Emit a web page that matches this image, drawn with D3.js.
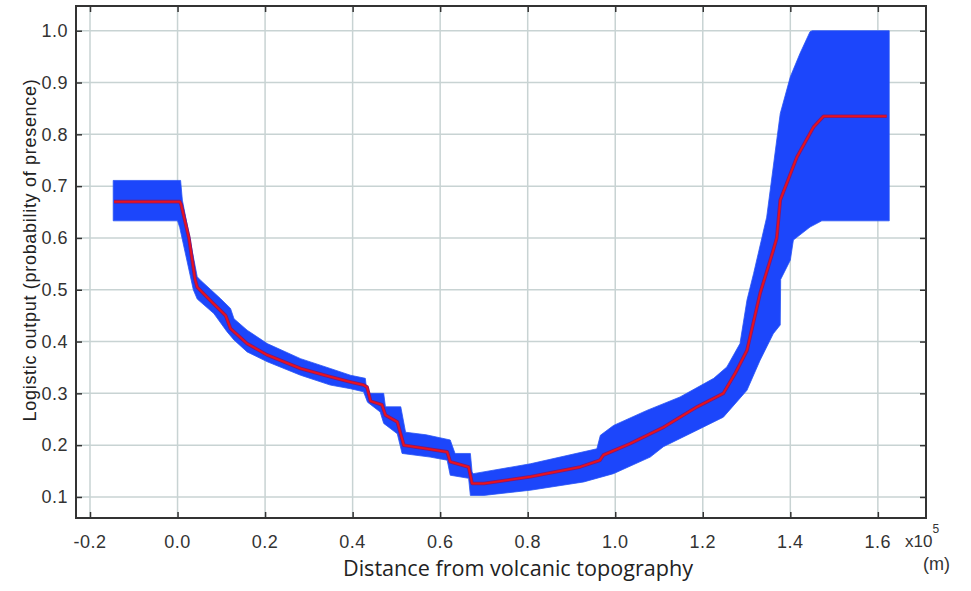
<!DOCTYPE html>
<html>
<head>
<meta charset="utf-8">
<script src="https://cdn.jsdelivr.net/npm/d3@7"></script>
<style>
  html, body { margin: 0; padding: 0; background: #fff; }
  svg { display: block; }
</style>
</head>
<body>
<svg id="chart" width="971" height="591"></svg>
<script>
// ---- Data (x in units of 1e5 m) ----
const xTicks = [-0.2, 0.0, 0.2, 0.4, 0.6, 0.8, 1.0, 1.2, 1.4, 1.6];
const yTicks = [0.1, 0.2, 0.3, 0.4, 0.5, 0.6, 0.7, 0.8, 0.9, 1.0];

// mean logistic output (red line)
const meanX = [-0.145, 0.005, 0.008, 0.026, 0.04, 0.045, 0.08, 0.11, 0.121, 0.159, 0.205, 0.281, 0.349, 0.395, 0.425, 0.433, 0.441, 0.467, 0.475, 0.502, 0.517, 0.57, 0.616, 0.623, 0.665, 0.673, 0.7, 0.806, 0.92, 0.965, 0.973, 1.034, 1.111, 1.187, 1.247, 1.275, 1.301, 1.331, 1.361, 1.369, 1.377, 1.415, 1.453, 1.476, 1.62];
const meanY = [0.67, 0.67, 0.665, 0.6, 0.52, 0.505, 0.475, 0.45, 0.425, 0.396, 0.374, 0.348, 0.332, 0.322, 0.316, 0.312, 0.285, 0.278, 0.258, 0.245, 0.2, 0.193, 0.187, 0.168, 0.158, 0.126, 0.126, 0.139, 0.158, 0.171, 0.181, 0.203, 0.235, 0.274, 0.3, 0.34, 0.383, 0.493, 0.576, 0.6, 0.673, 0.756, 0.814, 0.835, 0.835];

// upper edge of the band
const upperX = [-0.147, 0.007, 0.011, 0.045, 0.053, 0.098, 0.121, 0.129, 0.159, 0.205, 0.281, 0.349, 0.395, 0.429, 0.433, 0.471, 0.475, 0.51, 0.521, 0.568, 0.623, 0.634, 0.669, 0.673, 0.676, 0.806, 0.958, 0.966, 0.996, 1.072, 1.148, 1.225, 1.255, 1.285, 1.301, 1.316, 1.346, 1.369, 1.377, 1.4, 1.422, 1.445, 1.45, 1.626];
const upperY = [0.711, 0.711, 0.673, 0.525, 0.518, 0.483, 0.464, 0.444, 0.422, 0.396, 0.367, 0.348, 0.335, 0.329, 0.3, 0.3, 0.274, 0.274, 0.225, 0.22, 0.21, 0.184, 0.184, 0.148, 0.145, 0.164, 0.193, 0.219, 0.238, 0.267, 0.293, 0.329, 0.351, 0.396, 0.48, 0.531, 0.64, 0.789, 0.84, 0.911, 0.956, 0.998, 1.0, 1.0];

// lower edge of the band
const lowerX = [-0.147, 0.0, 0.005, 0.036, 0.045, 0.083, 0.113, 0.129, 0.159, 0.205, 0.281, 0.349, 0.395, 0.425, 0.434, 0.463, 0.471, 0.502, 0.513, 0.577, 0.616, 0.623, 0.665, 0.669, 0.7, 0.806, 0.928, 0.996, 1.08, 1.11, 1.187, 1.247, 1.301, 1.331, 1.361, 1.377, 1.378, 1.4, 1.407, 1.445, 1.472, 1.626];
const lowerY = [0.633, 0.633, 0.62, 0.5, 0.482, 0.454, 0.419, 0.403, 0.38, 0.361, 0.335, 0.316, 0.309, 0.303, 0.283, 0.264, 0.242, 0.222, 0.184, 0.177, 0.171, 0.142, 0.136, 0.103, 0.103, 0.113, 0.129, 0.145, 0.177, 0.197, 0.229, 0.254, 0.306, 0.364, 0.415, 0.432, 0.52, 0.557, 0.596, 0.621, 0.633, 0.633];

const xLabel = "Distance from volcanic topography";
const yLabel = "Logistic output (probability of presence)";

// ---- Layout ----
const svg = d3.select("#chart");
const pL = 76, pR = 926, pT = 6, pB = 518;
const x = d3.scaleLinear().domain([-0.232, 1.71]).range([pL, pR]);
const y = d3.scaleLinear().domain([0.0594, 1.0477]).range([pB, pT]);

const fontTick = "'Liberation Sans', Arial, sans-serif";
const fontLabel = "'Open Sans', 'Noto Sans', sans-serif";

// grid
const grid = svg.append("g");
grid.selectAll("line.vx").data(xTicks).join("line")
  .attr("x1", d => x(d)).attr("x2", d => x(d))
  .attr("y1", pT).attr("y2", pB)
  .attr("stroke", "#c8d3d3").attr("stroke-width", 1.5);
grid.selectAll("line.hy").data(yTicks).join("line")
  .attr("x1", pL).attr("x2", pR)
  .attr("y1", d => y(d)).attr("y2", d => y(d))
  .attr("stroke", "#c8d3d3").attr("stroke-width", 1.5);

// band
const upperPts = upperX.map((v, i) => [v, upperY[i]]);
const lowerPts = lowerX.map((v, i) => [v, lowerY[i]]);
const bandPts = upperPts.concat(lowerPts.slice().reverse());
svg.append("path")
  .attr("d", d3.line().x(d => x(d[0])).y(d => y(d[1]))(bandPts) + "Z")
  .attr("fill", "#1c46fb")
  .attr("stroke", "#2a55f5").attr("stroke-width", 0.8);

// mean line
const meanPts = meanX.map((v, i) => [v, meanY[i]]);
const lineGen = d3.line().x(d => x(d[0])).y(d => y(d[1]));
svg.append("path").attr("d", lineGen(meanPts))
  .attr("fill", "none").attr("stroke", "#7a1a78").attr("stroke-width", 3.6).attr("stroke-linejoin", "round");
svg.append("path").attr("d", lineGen(meanPts))
  .attr("fill", "none").attr("stroke", "#e8121e").attr("stroke-width", 2).attr("stroke-linejoin", "round");

// axes (inner ticks, no domain)
const tickLen = 6;
const axB = d3.axisBottom(x).tickValues(xTicks).tickSize(-tickLen).tickFormat("");
const axT = d3.axisTop(x).tickValues(xTicks).tickSize(-tickLen).tickFormat("");
const axL = d3.axisLeft(y).tickValues(yTicks).tickSize(-tickLen).tickFormat("");
const axR = d3.axisRight(y).tickValues(yTicks).tickSize(-tickLen).tickFormat("");
[[axB, `translate(0,${pB})`], [axT, `translate(0,${pT})`], [axL, `translate(${pL},0)`], [axR, `translate(${pR},0)`]]
  .forEach(([ax, tr]) => {
    const g = svg.append("g").attr("transform", tr).call(ax);
    g.select(".domain").remove();
    g.selectAll(".tick line").attr("stroke", "#333").attr("stroke-width", 1.5);
  });

// frame
svg.append("rect").attr("x", pL).attr("y", pT).attr("width", pR - pL).attr("height", pB - pT)
  .attr("fill", "none").attr("stroke", "#333").attr("stroke-width", 2);

// tick labels
svg.append("g").selectAll("text").data(xTicks).join("text")
  .attr("x", d => x(d)).attr("y", 548)
  .attr("text-anchor", "middle")
  .attr("font-family", fontTick).attr("font-size", 18).attr("fill", "#333")
  .attr("letter-spacing", 0.5)
  .text(d => d3.format(".1f")(d).replace("−", "-"));
svg.append("g").selectAll("text").data(yTicks).join("text")
  .attr("x", 68).attr("y", d => y(d)).attr("dy", "0.35em")
  .attr("text-anchor", "end")
  .attr("font-family", fontTick).attr("font-size", 18).attr("fill", "#333")
  .attr("letter-spacing", 0.5)
  .text(d => d3.format(".1f")(d));

// exponent / unit
const exp = svg.append("text").attr("x", 905).attr("y", 547)
  .attr("font-family", fontTick).attr("font-size", 17).attr("fill", "#333");
exp.append("tspan").text("x10");
exp.append("tspan").attr("dy", -14).attr("font-size", 12).text("5");
svg.append("text").attr("x", 923).attr("y", 570)
  .attr("font-family", fontTick).attr("font-size", 18).attr("fill", "#333").text("(m)");

// axis labels
svg.append("text").attr("x", 518).attr("y", 576)
  .attr("text-anchor", "middle")
  .attr("font-family", fontLabel).attr("font-size", 21.6).attr("fill", "#222")
  .text(xLabel);
svg.append("text")
  .attr("transform", "translate(36,250) rotate(-90)")
  .attr("text-anchor", "middle")
  .attr("font-family", fontTick).attr("font-size", 18).attr("fill", "#222")
  .attr("letter-spacing", 0.7)
  .text(yLabel);
</script>
</body>
</html>
